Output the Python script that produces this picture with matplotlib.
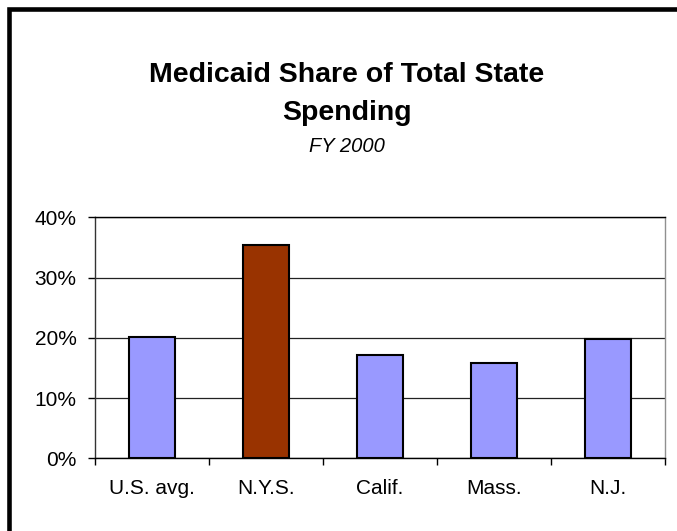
import matplotlib.pyplot as plt
import numpy as np
from matplotlib.lines import Line2D
from matplotlib.ticker import PercentFormatter

plt.rcParams['font.family'] = ['Liberation Sans', 'DejaVu Sans']

states = ['U.S. avg.', 'N.Y.S.', 'Calif.', 'Mass.', 'N.J.']
shares = [20.2, 35.4, 17.1, 15.8, 19.8]
bar_colors = ['#9999FF', '#993300', '#9999FF', '#9999FF', '#9999FF']
y_ticks = [0, 10, 20, 30, 40]

W, H = 677, 531
fig = plt.figure(figsize=(W / 100, H / 100), dpi=100)
ax = fig.add_axes([94.7 / W, 1 - 458.3 / H, (665 - 94.7) / W, (458.3 - 217.3) / H])

x = np.arange(len(states))
ax.bar(x, shares, width=0.4, color=bar_colors, edgecolor='black', linewidth=1.5, zorder=3)

ax.set_xlim(-0.5, len(states) - 0.5)
ax.set_ylim(0, 40)
ax.set_yticks(y_ticks)
ax.yaxis.set_major_formatter(PercentFormatter(decimals=0))
ax.yaxis.grid(True, color='#222222', linewidth=0.9, zorder=1)

ax.set_xticks(x)
ax.set_xticklabels(states)
ax.set_xticks(np.arange(len(states) + 1) - 0.5, minor=True)
ax.tick_params(axis='x', which='major', length=0, pad=15, labelsize=15)
ax.tick_params(axis='x', which='minor', length=5, width=1, direction='out')
ax.tick_params(axis='y', length=5, width=1, pad=8, labelsize=15)

ax.spines['left'].set_color('#333333')
ax.spines['bottom'].set_color('black')
ax.spines['top'].set_color('black')
ax.spines['right'].set_color('#909090')
for s in ax.spines.values():
    s.set_linewidth(1)

# title block
cx = 347 / W
fig.text(cx, 1 - 82 / H, 'Medicaid Share of Total State', ha='center', va='baseline',
         fontsize=20.5, fontweight='bold')
fig.text(cx, 1 - 120 / H, 'Spending', ha='center', va='baseline',
         fontsize=20.5, fontweight='bold')
fig.text(cx, 1 - 151.5 / H, 'FY 2000', ha='center', va='baseline',
         fontsize=14.5, style='italic')

# thick outer frame (left and top edges)
fig.add_artist(Line2D([9 / W, 9 / W, 1.0], [0.0, 1 - 9 / H, 1 - 9 / H],
                      transform=fig.transFigure, color='black', linewidth=3.3,
                      solid_joinstyle='miter'))

fig.savefig('out.png', dpi=100)
